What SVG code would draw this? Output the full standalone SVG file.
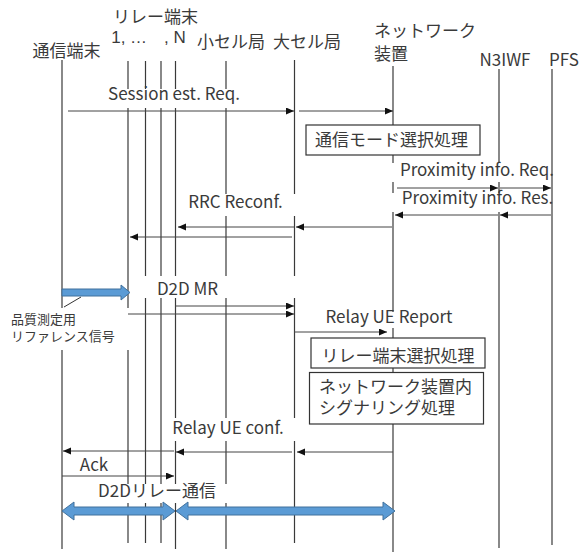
<svg xmlns="http://www.w3.org/2000/svg" width="587" height="553" viewBox="0 0 587 553">
<defs>
<marker id="ah" markerUnits="userSpaceOnUse" markerWidth="9" markerHeight="8" refX="8" refY="3.5" orient="auto">
<path d="M0,0 L8,3.5 L0,7 z" fill="#111"/>
</marker>
</defs>
<style>
text{font-family:"Noto Sans CJK JP","Noto Sans",sans-serif;font-size:17px;fill:#3a3a3a}
.ml{font-family:"Liberation Sans","Noto Sans CJK JP",sans-serif}
.m{text-anchor:middle}
.s{font-size:13px}
.life{stroke:#3a3a3a;stroke-width:1.2;fill:none}
.bg{fill:#fff;stroke:none}
.msg{stroke:#444;stroke-width:1;fill:none;marker-end:url(#ah)}
.box{fill:#fff;stroke:#333;stroke-width:1.2}
.big{fill:#5B9BD5;stroke:#41719C;stroke-width:1}
</style>
<rect width="587" height="553" fill="#fff"/>

<g id="lifelines">
<g id="ue"><line class="life" x1="62" y1="60" x2="62" y2="549"/><text class="m" x="66.5" y="57">通信端末</text></g>
<g id="relay">
<line class="life" x1="128" y1="61" x2="128" y2="543"/>
<line class="life" x1="145.5" y1="61" x2="145.5" y2="543"/>
<line class="life" x1="161" y1="61" x2="161" y2="543"/>
<line class="life" x1="175.5" y1="61" x2="175.5" y2="549"/>
<text class="m ml"><tspan x="155.5" y="23">リレー端末</tspan><tspan x="148.5" y="43">1, …　, N</tspan></text>
</g>
<g id="smallcell"><line class="life" x1="226" y1="61" x2="226" y2="549"/><text class="m" x="231" y="48">小セル局</text></g>
<g id="macrocell"><line class="life" x1="294.5" y1="60" x2="294.5" y2="543"/><text class="m" x="307" y="48">大セル局</text></g>
<g id="network"><line class="life" x1="393" y1="66" x2="393" y2="552"/><text class="ml"><tspan x="374" y="37">ネットワーク</tspan><tspan x="374" y="60">装置</tspan></text></g>
<g id="n3iwf"><line class="life" x1="499" y1="69" x2="499" y2="548"/><text class="m" x="505" y="66">N3IWF</text></g>
<g id="pfs"><line class="life" x1="552" y1="69" x2="552" y2="545"/><text class="m" x="564" y="66">PFS</text></g>
</g>

<g id="label-backgrounds">
<rect class="bg" x="104" y="89" width="142" height="19"/>
<rect class="bg" x="184" y="194" width="113" height="22"/>
<rect class="bg" x="391" y="163" width="160" height="19"/>
<rect class="bg" x="391" y="193" width="160" height="19"/>
<rect class="bg" x="143" y="276" width="155" height="22"/>
<rect class="bg" x="8" y="308" width="123" height="42"/>
<rect class="bg" x="320" y="312" width="138" height="16"/>
<rect class="bg" x="168" y="418" width="129" height="23"/>
<rect class="bg" x="92" y="484" width="138" height="19"/>
</g>

<g id="proc1"><rect class="box" x="306" y="125" width="174" height="30"/><text class="m" x="391.5" y="146">通信モード選択処理</text></g>
<g id="proc2"><rect class="box" x="311" y="338" width="174" height="30"/><text class="m" x="398" y="362">リレー端末選択処理</text></g>
<g id="proc3"><rect class="box" x="309.5" y="372.5" width="174" height="51.5"/><text class="ml"><tspan x="319" y="393">ネットワーク装置内</tspan><tspan x="319" y="414">シグナリング処理</tspan></text></g>

<g id="connectors">
<line class="msg" x1="68" y1="111" x2="294" y2="111"/>
<line class="msg" x1="299" y1="111" x2="393" y2="111"/>
<line class="msg" x1="397" y1="188" x2="498" y2="188"/>
<line class="msg" x1="500" y1="188" x2="551" y2="188"/>
<line class="msg" x1="551" y1="215" x2="500" y2="215"/>
<line class="msg" x1="498" y1="215" x2="395" y2="215"/>
<line class="msg" x1="392" y1="227" x2="296" y2="227"/>
<line class="msg" x1="294" y1="227" x2="178" y2="227"/>
<line class="msg" x1="292" y1="237" x2="130" y2="237"/>
<line class="msg" x1="175" y1="306" x2="294" y2="306"/>
<line class="msg" x1="128" y1="314" x2="294" y2="314"/>
<line class="msg" x1="294" y1="332" x2="387" y2="332"/>
<line class="msg" x1="393" y1="452" x2="297" y2="452"/>
<line class="msg" x1="292" y1="452" x2="176" y2="452"/>
<line class="msg" x1="174" y1="451" x2="63" y2="451"/>
<line class="msg" x1="62" y1="476" x2="174" y2="476"/>
<line x1="64" y1="307" x2="81" y2="297" stroke="#333" stroke-width="1"/>
<path class="big" d="M62,289 L121,289 L121,285 L130,292.5 L121,300 L121,296 L62,296 z"/>
<path class="big" d="M62,511 L74,502 L74,507 L163,507 L163,502 L175,511 L163,520 L163,515 L74,515 L74,520 z"/>
<path class="big" d="M176,511 L188,502 L188,507 L383,507 L383,502 L395,511 L383,520 L383,515 L188,515 L188,520 z"/>
</g>

<g id="labels">
<text class="m" x="174" y="100">Session est. Req.</text>
<text class="m" x="477" y="176">Proximity info. Req.</text>
<text class="m" x="477.5" y="204">Proximity info. Res.</text>
<text class="m" x="235.5" y="208">RRC Reconf.</text>
<text class="m" x="187.5" y="295">D2D MR</text>
<text class="s ml"><tspan x="11" y="324">品質測定用</tspan><tspan x="11" y="341">リファレンス信号</tspan></text>
<text class="m" x="389" y="323">Relay UE Report</text>
<text class="m" x="228" y="434">Relay UE conf.</text>
<text class="m" x="94" y="471">Ack</text>
<text class="m" x="157" y="497">D2Dリレー通信</text>
</g>
</svg>
